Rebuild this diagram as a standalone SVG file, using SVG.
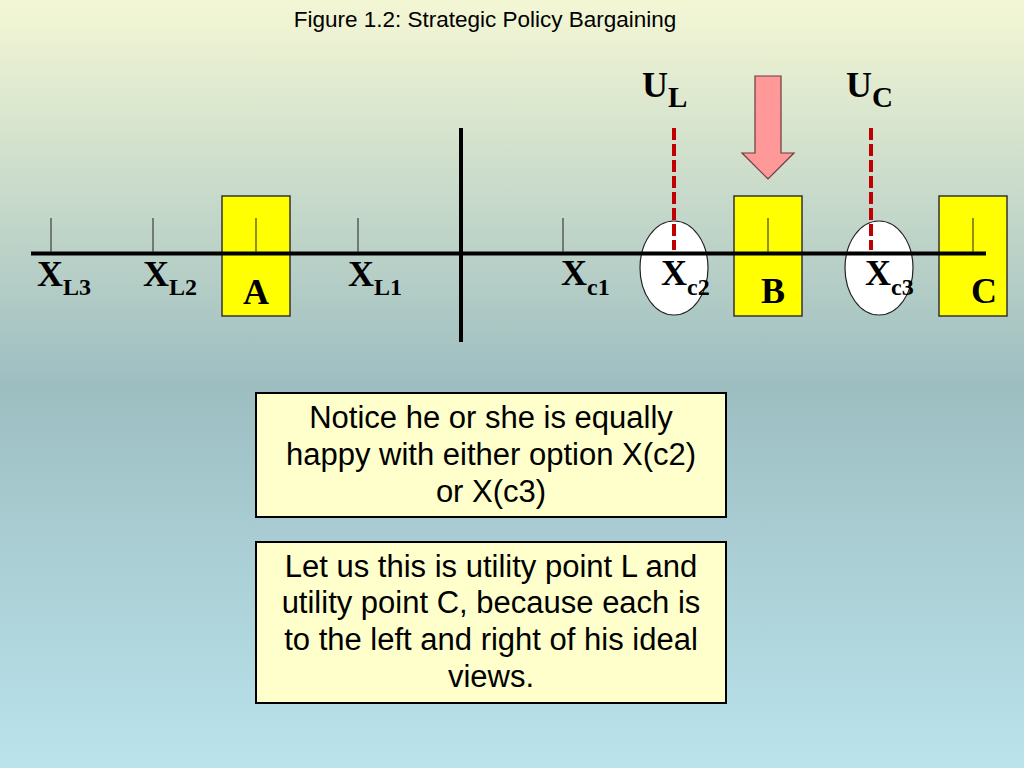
<svg xmlns="http://www.w3.org/2000/svg" width="1024" height="768" viewBox="0 0 1024 768">
<defs>
<linearGradient id="bg" x1="0" y1="0" x2="0" y2="1">
<stop offset="0" stop-color="#F4F7D4"/>
<stop offset="0.5" stop-color="#9DBEC1"/>
<stop offset="1" stop-color="#BAE3EC"/>
</linearGradient>
<style>
.box{fill:#FFFF00;stroke:#333;stroke-width:1.5}
.ell{fill:#FFFFFF;stroke:#222;stroke-width:1.2}
.tick{stroke:#222;stroke-width:1}
.axis{stroke:#000;stroke-width:4}
.dash{stroke:#C00000;stroke-width:4;stroke-dasharray:12 4}
.lbl{font-family:"Liberation Serif","Times New Roman",serif;font-weight:bold;font-size:36px;fill:#000}
.sub{font-size:24px}
.note{fill:#FFFFCC;stroke:#000;stroke-width:2}
.nt{font-family:"Liberation Sans",Arial,sans-serif;font-size:31px;fill:#000;text-anchor:middle}
</style>
</defs>
<rect x="0" y="0" width="1024" height="768" fill="url(#bg)"/>
<text x="485" y="27" font-family="'Liberation Sans',Arial,sans-serif" font-size="22.5" text-anchor="middle" fill="#000">Figure 1.2: Strategic Policy Bargaining</text>

<g id="boxA"><rect class="box" x="222" y="196" width="68" height="120"/><text class="lbl" x="256" y="304" text-anchor="middle" font-size="30">A</text></g>
<g id="boxB"><rect class="box" x="734" y="196" width="68" height="120"/><text class="lbl" x="773" y="303" text-anchor="middle" font-size="30">B</text></g>
<g id="boxC"><rect class="box" x="939" y="196" width="68" height="120"/><text class="lbl" x="984" y="303" text-anchor="middle" font-size="30">C</text></g>
<g id="ellC2"><ellipse class="ell" cx="674" cy="268" rx="34" ry="47"/></g>
<g id="ellC3"><ellipse class="ell" cx="879" cy="268" rx="34" ry="47"/></g>

<g id="connectors">
<line class="axis" x1="31" y1="253.5" x2="986" y2="253.5"/>
<line class="axis" x1="461" y1="128" x2="461" y2="342"/>
<line class="tick" x1="51" y1="218" x2="51" y2="252"/>
<line class="tick" x1="153" y1="218" x2="153" y2="252"/>
<line class="tick" x1="256" y1="218" x2="256" y2="252"/>
<line class="tick" x1="358" y1="218" x2="358" y2="252"/>
<line class="tick" x1="563" y1="218" x2="563" y2="252"/>
<line class="tick" x1="768" y1="218" x2="768" y2="252"/>
<line class="tick" x1="973" y1="218" x2="973" y2="252"/>
<line class="dash" x1="674" y1="128" x2="674" y2="250"/>
<line class="dash" x1="871" y1="128" x2="871" y2="250"/>
</g>

<g id="arrow"><polygon points="755,76 781,76 781,153 794,153 768,179 742,153 755,153" fill="#FF9999" stroke="#6B3A3A" stroke-width="1.2"/></g>

<g id="labels">
<text class="lbl" x="37" y="286">X<tspan class="sub" dy="9">L3</tspan></text>
<text class="lbl" x="143" y="286">X<tspan class="sub" dy="9">L2</tspan></text>
<text class="lbl" x="348" y="286">X<tspan class="sub" dy="9">L1</tspan></text>
<text class="lbl" x="561" y="285">X<tspan class="sub" dy="10">c1</tspan></text>
<text class="lbl" x="661" y="285">X<tspan class="sub" dy="10">c2</tspan></text>
<text class="lbl" x="865" y="285">X<tspan class="sub" dy="10">c3</tspan></text>
<text class="lbl" x="642" y="97" font-size="44">U<tspan font-size="29" dy="10">L</tspan></text>
<text class="lbl" x="846" y="97" font-size="44">U<tspan font-size="29" dy="10">C</tspan></text>
</g>

<g id="note1">
<rect class="note" x="256" y="393" width="470" height="124"/>
<text class="nt" x="491" y="428">Notice he or she is equally</text>
<text class="nt" x="491" y="465">happy with either option X(c2)</text>
<text class="nt" x="491" y="502">or X(c3)</text>
</g>
<g id="note2">
<rect class="note" x="256" y="542" width="470" height="161"/>
<text class="nt" x="491" y="577">Let us this is utility point L and</text>
<text class="nt" x="491" y="613">utility point C, because each is</text>
<text class="nt" x="491" y="650">to the left and right of his ideal</text>
<text class="nt" x="491" y="687">views.</text>
</g>
</svg>
